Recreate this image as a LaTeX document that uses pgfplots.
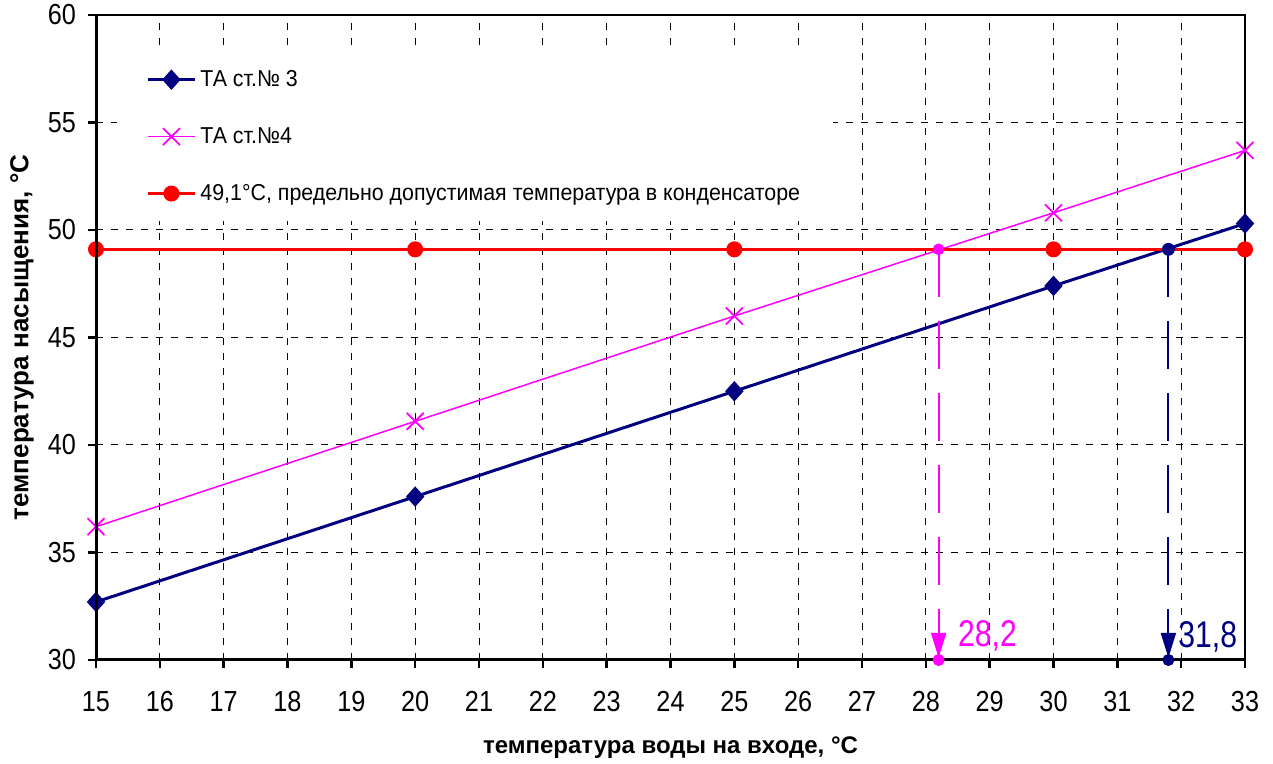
\documentclass[border=0pt]{standalone}
\usepackage{pgfplots}
\pgfplotsset{compat=1.18}
\usepackage{fontspec}
\setmainfont{Liberation Sans}
\newfontfamily\tickfont{Liberation Sans}[FakeStretch=0.87]
\newfontfamily\legfont{Liberation Sans}[FakeStretch=0.93]
\newfontfamily\annfont{Liberation Sans}[FakeStretch=0.81]
\usetikzlibrary{arrows.meta}
\definecolor{navy}{RGB}{0,0,128}
\definecolor{mag}{RGB}{255,0,255}
\definecolor{red1}{RGB}{255,0,0}
\begin{document}
\begin{tikzpicture}
\begin{axis}[
 name=ax,
 scale only axis, width=574.5pt, height=322.5pt,
 xmin=15, xmax=33, ymin=30, ymax=60,
 xtick={15,...,33}, ytick={30,35,...,60},
 tick align=outside, xtick pos=left, ytick pos=left,
 major tick length=4pt,
 every tick/.style={black, line width=1.2pt},
 grid=major,
 major grid style={black, line width=0.5pt, dash pattern=on 3.5pt off 4pt},
 axis line style={black, line width=0.6pt},
 tick label style={font=\tickfont\fontsize{14.5}{16}\selectfont},
 xticklabel style={yshift=-8pt},
 yticklabel style={xshift=-2.5pt},
 /pgf/number format/assume math mode=true,
 xlabel={температура воды на входе, °C},
 ylabel={температура насыщения, °C},
 xlabel style={font=\bfseries\fontsize{12}{14}\selectfont, at={(axis description cs:0.5,-0.1364)}, anchor=center},
 ylabel style={font=\bfseries\fontsize{13}{15}\selectfont, at={(axis description cs:-0.0644,0.5)}, anchor=center},
 clip=false,
 legend style={at={(0.0183,0.943)}, anchor=north west, draw=none, fill=white,
   font=\legfont\fontsize{11.5}{13}\selectfont, row sep=15pt, inner xsep=14.5pt, inner ysep=7pt},
 legend cell align=left,
 legend image code/.code={\draw[mark repeat=2, mark phase=2, #1] plot coordinates {(0pt,0pt) (11.75pt,0pt) (23.5pt,0pt)};},
]
\addplot[navy, line width=1.5pt, mark=diamond*, mark size=4pt, mark options={solid, xscale=1.2}] coordinates {
 (15,32.7) (20,37.6) (25,42.5) (30,47.4) (33,50.3)};
\addlegendentry{ТА ст.№ 3}
\addplot[mag, line width=0.75pt, mark=x, mark size=6pt, mark options={line width=0.9pt}] coordinates {
 (15,36.2) (20,41.1) (25,46.0) (30,50.8) (33,53.7)};
\addlegendentry{ТА ст.№4}
\addplot[red1, line width=1.5pt, mark=*, mark size=3.25pt] coordinates {
 (15,49.1) (20,49.1) (25,49.1) (30,49.1) (33,49.1)};
\addlegendentry{49,1°C, предельно допустимая температура в конденсаторе}
\addplot[mag, line width=1pt, dash pattern=on 24pt off 12pt, -{Triangle[width=7.5pt,length=12.5pt]}, forget plot] coordinates {(28.2,49.1) (28.2,30.1)};
\addplot[navy, line width=1pt, dash pattern=on 24pt off 12pt, -{Triangle[width=7.5pt,length=12.5pt]}, forget plot] coordinates {(31.8,49.1) (31.8,30.1)};
\addplot[mag, only marks, mark=*, mark size=2.7pt, forget plot] coordinates {(28.2,49.1)};
\addplot[navy, only marks, mark=*, mark size=3pt, forget plot] coordinates {(31.8,49.1)};
\node[anchor=base west, text=mag, font=\annfont\fontsize{18.6}{20}\selectfont, inner sep=0pt] at (axis cs:28.5,30.65) {28,2};
\node[anchor=base west, text=navy, font=\annfont\fontsize{18.6}{20}\selectfont, inner sep=0pt] at (axis cs:31.95,30.56) {31,8};
\end{axis}
\draw[black, line width=1.5pt] (ax.north west) -- (ax.south west) -- (ax.south east);
\begin{axis}[
 scale only axis, width=574.5pt, height=322.5pt,
 xmin=15, xmax=33, ymin=30, ymax=60, clip=false, axis lines=none,
]
\addplot[mag, only marks, mark=*, mark size=2.8pt] coordinates {(28.2,30)};
\addplot[navy, only marks, mark=*, mark size=2.8pt] coordinates {(31.8,30)};
\end{axis}
\pgfresetboundingbox
\path ([shift={(-48pt,-52pt)}]ax.south west) rectangle ([shift={(14pt,7.5pt)}]ax.north east);
\end{tikzpicture}
\end{document}
